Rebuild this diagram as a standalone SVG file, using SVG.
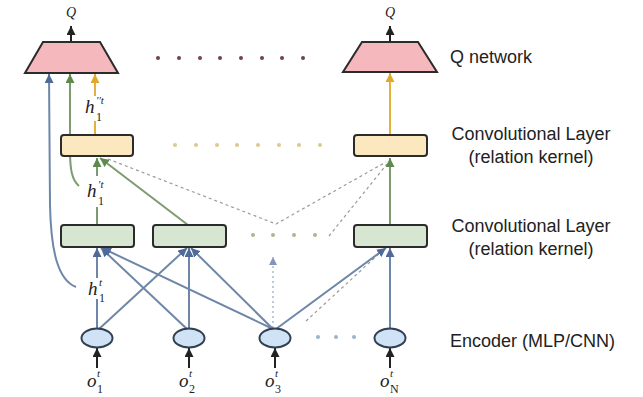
<svg xmlns="http://www.w3.org/2000/svg" width="643" height="397" viewBox="0 0 643 397">
<style>
.lbl{font-family:"Liberation Sans",Arial,sans-serif;font-size:18px;fill:#222}
.m{font-family:"Liberation Serif","Times New Roman",serif;font-style:italic;fill:#222}
.big{font-size:19px}
.sm{font-size:11px}
.sb{font-size:12px;font-style:normal}
.q{font-size:14px}
.box{stroke:#2b2b2b;stroke-width:2}
.yel{fill:#FCE8BE}
.grn{fill:#D6E6D0}
.enc{fill:#CFE2F6;stroke:#334052;stroke-width:2}
.qn{fill:#F5B9BD;stroke:#2b2b2b;stroke-width:2}
.cb{stroke:#6E87A8;stroke-width:2;fill:none}
.cg{stroke:#7D9B6E;stroke-width:2;fill:none}
.cy{stroke:#E4B13E;stroke-width:2;fill:none}
.ck{stroke:#222;stroke-width:2;fill:none}
.dash{stroke:#9a9a9a;stroke-width:1.2;fill:none;stroke-dasharray:3,3}
.dot{stroke:#A9B8D2;stroke-width:1.5;fill:none;stroke-dasharray:2,3}
</style>
<defs>
<marker id="ab" viewBox="0 0 10 10" refX="10" refY="5" markerWidth="9" markerHeight="9" markerUnits="userSpaceOnUse" orient="auto"><path d="M0,0 L10,5 L0,10 z" fill="#4F6A99"/></marker>
<marker id="ag" viewBox="0 0 10 10" refX="10" refY="5" markerWidth="9" markerHeight="9" markerUnits="userSpaceOnUse" orient="auto"><path d="M0,0 L10,5 L0,10 z" fill="#5E8A4E"/></marker>
<marker id="ay" viewBox="0 0 10 10" refX="10" refY="5" markerWidth="9" markerHeight="9" markerUnits="userSpaceOnUse" orient="auto"><path d="M0,0 L10,5 L0,10 z" fill="#E2A82C"/></marker>
<marker id="ak" viewBox="0 0 10 10" refX="10" refY="5" markerWidth="9" markerHeight="9" markerUnits="userSpaceOnUse" orient="auto"><path d="M0,0 L10,5 L0,10 z" fill="#222"/></marker>
<marker id="ad" viewBox="0 0 10 10" refX="10" refY="5" markerWidth="8" markerHeight="8" markerUnits="userSpaceOnUse" orient="auto"><path d="M0,0 L10,5 L0,10 z" fill="#8296B8"/></marker>
</defs>

<g id="connectors">
  <path class="dash" d="M108,159 L276,224 L386,162"/>
  <path class="dash" d="M329,236 L387,164"/>
  <path class="dash" d="M306,321 L382,251"/>
  <path class="dot" d="M273,328 L273,257" marker-end="url(#ad)"/>
  <path class="cb" d="M97,329 L97,299"/>
  <path class="cb" d="M97,278 L97,248" marker-end="url(#ab)"/>
  <path class="cb" d="M99,329 L187,248" marker-end="url(#ab)"/>
  <path class="cb" d="M187,329 L101,248" marker-end="url(#ab)"/>
  <path class="cb" d="M189,329 L189,248" marker-end="url(#ab)"/>
  <path class="cb" d="M273,329 L102,248" marker-end="url(#ab)"/>
  <path class="cb" d="M273,329 L191,248" marker-end="url(#ab)"/>
  <path class="cb" d="M276,329 L386,248" marker-end="url(#ab)"/>
  <path class="cb" d="M390,329 L390,248" marker-end="url(#ab)"/>
  <path class="cb" d="M76,287 C58,280 51,252 50,205 L49,74" marker-end="url(#ab)"/>
  <path class="cg" d="M97,225 L97,207"/>
  <path class="cg" d="M97,176 L97,158" marker-end="url(#ag)"/>
  <path class="cg" d="M188,225 L100,158" marker-end="url(#ag)"/>
  <path class="cg" d="M390,225 L390,158" marker-end="url(#ag)"/>
  <path class="cg" d="M79,186 C72,180 70,170 70,150 L70,74" marker-end="url(#ag)"/>
  <path class="cy" d="M95,134 L95,121"/>
  <path class="cy" d="M95,96 L95,74" marker-end="url(#ay)"/>
  <path class="cy" d="M390,134 L390,73" marker-end="url(#ay)"/>
  <path class="ck" d="M71,42 L71,26" marker-end="url(#ak)"/>
  <path class="ck" d="M390,42 L390,26" marker-end="url(#ak)"/>
  <path class="ck" d="M97,368 L97,348" marker-end="url(#ak)"/>
  <path class="ck" d="M189,368 L189,348" marker-end="url(#ak)"/>
  <path class="ck" d="M275,368 L275,348" marker-end="url(#ak)"/>
  <path class="ck" d="M390,368 L390,348" marker-end="url(#ak)"/>
</g>

<g id="q1">
  <polygon class="qn" points="43,42 100,42 118,73 25,73"/>
  <text class="m q" x="71" y="17" text-anchor="middle">Q</text>
</g>
<g id="qN">
  <polygon class="qn" points="362,42 418,42 437,72 343,72"/>
  <text class="m q" x="390" y="17" text-anchor="middle">Q</text>
</g>

<g id="conv2-1"><rect class="box yel" x="61" y="135" width="72" height="21" rx="3"/></g>
<g id="conv2-N"><rect class="box yel" x="354" y="135" width="73" height="21" rx="3"/></g>
<g id="conv1-1"><rect class="box grn" x="61" y="225" width="73" height="22" rx="3"/></g>
<g id="conv1-2"><rect class="box grn" x="153" y="225" width="73" height="22" rx="3"/></g>
<g id="conv1-N"><rect class="box grn" x="354" y="225" width="73" height="22" rx="3"/></g>

<g id="enc1"><ellipse class="enc" cx="97" cy="338" rx="15.5" ry="9.5"/></g>
<g id="enc2"><ellipse class="enc" cx="189" cy="338" rx="15.5" ry="9.5"/></g>
<g id="enc3"><ellipse class="enc" cx="275" cy="338" rx="15.5" ry="9.5"/></g>
<g id="encN"><ellipse class="enc" cx="390" cy="338" rx="15.5" ry="9.5"/></g>

<g id="dots">
  <g fill="#6E4444">
    <circle cx="158" cy="58" r="2"/><circle cx="179" cy="58" r="2"/><circle cx="200" cy="58" r="2"/><circle cx="220" cy="58" r="2"/><circle cx="241" cy="58" r="2"/><circle cx="262" cy="58" r="2"/><circle cx="282" cy="58" r="2"/><circle cx="303" cy="58" r="2"/>
  </g>
  <g fill="#D8CB8C">
    <circle cx="175" cy="145" r="2"/><circle cx="196" cy="145" r="2"/><circle cx="217" cy="145" r="2"/><circle cx="237" cy="145" r="2"/><circle cx="258" cy="145" r="2"/><circle cx="279" cy="145" r="2"/><circle cx="299" cy="145" r="2"/><circle cx="320" cy="145" r="2"/>
  </g>
  <g fill="#AAB98E">
    <circle cx="253" cy="235" r="2"/><circle cx="273" cy="235" r="2"/><circle cx="294" cy="235" r="2"/><circle cx="315" cy="235" r="2"/>
  </g>
  <g fill="#9DB3C8">
    <circle cx="318" cy="337" r="2"/><circle cx="336" cy="337" r="2"/><circle cx="354" cy="337" r="2"/>
  </g>
</g>

<g id="hlabels">
  <text class="m big" x="85" y="113">h<tspan class="sm" x="96" y="104">′′t</tspan><tspan class="sb" x="96" y="121">1</tspan></text>
  <text class="m big" x="87" y="197">h<tspan class="sm" x="98" y="188">′t</tspan><tspan class="sb" x="98" y="205">1</tspan></text>
  <text class="m big" x="88" y="295">h<tspan class="sm" x="99" y="286">t</tspan><tspan class="sb" x="99" y="302">1</tspan></text>
</g>

<g id="olabels">
  <text class="m big" x="87" y="387">o<tspan class="sm" x="97" y="377">t</tspan><tspan class="sb" x="97" y="393">1</tspan></text>
  <text class="m big" x="179" y="387">o<tspan class="sm" x="189" y="377">t</tspan><tspan class="sb" x="189" y="393">2</tspan></text>
  <text class="m big" x="265" y="387">o<tspan class="sm" x="275" y="377">t</tspan><tspan class="sb" x="275" y="393">3</tspan></text>
  <text class="m big" x="380" y="387">o<tspan class="sm" x="390" y="377">t</tspan><tspan class="sb" x="390" y="393">N</tspan></text>
</g>

<g id="legend">
  <text class="lbl" x="450" y="63">Q network</text>
  <text class="lbl" x="531" y="140" text-anchor="middle">Convolutional Layer</text>
  <text class="lbl" x="531" y="163" text-anchor="middle">(relation kernel)</text>
  <text class="lbl" x="531" y="232" text-anchor="middle">Convolutional Layer</text>
  <text class="lbl" x="531" y="255" text-anchor="middle">(relation kernel)</text>
  <text class="lbl" x="450" y="347">Encoder (MLP/CNN)</text>
</g>
</svg>
